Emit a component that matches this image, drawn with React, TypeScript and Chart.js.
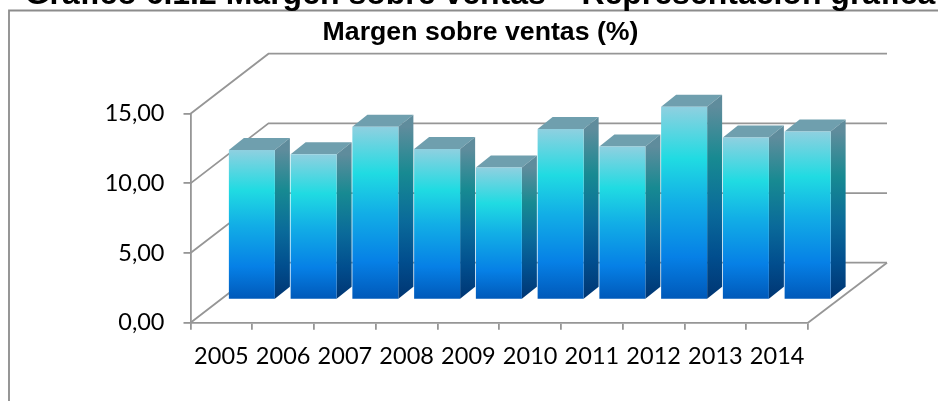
import React, { useEffect, useRef } from "react";
import { Chart, registerables } from "chart.js";

Chart.register(...registerables);

const years = ["2005", "2006", "2007", "2008", "2009", "2010", "2011", "2012", "2013", "2014"];
const margen = [10.75, 10.44, 12.42, 10.82, 9.48, 12.25, 10.99, 13.85, 11.65, 12.08];
const yTicks = [0, 5, 10, 15];

const heading = "Gráfico 6.1.2 Margen sobre ventas – Representación gráfica";
const chartTitle = "Margen sobre ventas (%)";

const LINE = "#969696";
const WALL_DX = 78;
const WALL_DY = -60;
const BAR_DX = 30.5;
const BAR_DY = -23;
const SIDE_DX = 15;
const SIDE_DY = -12;

function verticalGradient(ctx: CanvasRenderingContext2D, top: number, bottom: number, stops: [number, string][]) {
  const g = ctx.createLinearGradient(0, top, 0, bottom);
  stops.forEach(([o, c]) => g.addColorStop(o, c));
  return g;
}

const frontStops: [number, string][] = [
  [0, "#8fd0e0"],
  [0.27, "#20dbe2"],
  [0.5, "#12aee6"],
  [0.78, "#0680e6"],
  [1, "#0058b8"],
];
const sideStops: [number, string][] = [
  [0, "#5f8c9c"],
  [0.27, "#178a92"],
  [0.55, "#0a6a9a"],
  [0.78, "#014e8e"],
  [1, "#003572"],
];

const wallPlugin = {
  id: "wall",
  beforeDatasetsDraw(chart: any) {
    const { ctx, scales } = chart;
    const { left, right, bottom } = chart.chartArea;
    ctx.save();
    ctx.strokeStyle = LINE;
    ctx.lineWidth = 1.8;
    yTicks.forEach((v) => {
      const y = scales.y.getPixelForValue(v);
      ctx.beginPath();
      ctx.moveTo(left, y);
      ctx.lineTo(left + WALL_DX, y + WALL_DY);
      ctx.lineTo(right + WALL_DX + 1, y + WALL_DY);
      ctx.stroke();
    });
    ctx.beginPath();
    ctx.moveTo(right, bottom);
    ctx.lineTo(right + WALL_DX + 1, bottom + WALL_DY);
    ctx.stroke();
    ctx.restore();
  },
};

const barsPlugin = {
  id: "bars3d",
  beforeDatasetDraw(chart: any) {
    const { ctx } = chart;
    const bars = chart.getDatasetMeta(0).data;
    ctx.save();
    ctx.translate(BAR_DX, BAR_DY);
    bars.forEach((bar: any) => {
      const half = bar.width / 2;
      const l = bar.x - half;
      const r = bar.x + half;
      const t = bar.y;
      const b = bar.base;
      ctx.fillStyle = "#6f9fae";
      ctx.beginPath();
      ctx.moveTo(l, t);
      ctx.lineTo(l + SIDE_DX, t + SIDE_DY);
      ctx.lineTo(r + SIDE_DX, t + SIDE_DY);
      ctx.lineTo(r, t);
      ctx.closePath();
      ctx.fill();
      ctx.fillStyle = verticalGradient(ctx, t, b, sideStops);
      ctx.beginPath();
      ctx.moveTo(r, t);
      ctx.lineTo(r + SIDE_DX, t + SIDE_DY);
      ctx.lineTo(r + SIDE_DX, b + SIDE_DY);
      ctx.lineTo(r, b);
      ctx.closePath();
      ctx.fill();
    });
  },
  afterDatasetDraw(chart: any) {
    chart.ctx.restore();
  },
};

const textPlugin = {
  id: "texts",
  afterDraw(chart: any) {
    const { ctx } = chart;
    ctx.save();
    ctx.fillStyle = "#000";
    ctx.textAlign = "center";
    ctx.textBaseline = "alphabetic";
    ctx.font = 'bold 32px "Liberation Sans"';
    ctx.fillText(heading, 480, 4);
    ctx.font = 'bold 26.7px "Liberation Sans"';
    ctx.fillText(chartTitle, 480.5, 40);
    ctx.restore();
  },
};

const framePlugin = {
  id: "frame",
  beforeDraw(chart: any) {
    const { ctx, width, height } = chart;
    ctx.save();
    ctx.strokeStyle = "#8c8c8c";
    ctx.lineWidth = 1.8;
    ctx.beginPath();
    ctx.moveTo(9, height);
    ctx.lineTo(9, 10.5);
    ctx.lineTo(width, 10.5);
    ctx.stroke();
    ctx.restore();
  },
};

export default function App() {
  const ref = useRef<HTMLCanvasElement>(null);
  useEffect(() => {
    document.body.style.margin = "0";
    const chart = new Chart(ref.current!, {
      type: "bar",
      data: {
        labels: years,
        datasets: [
          {
            label: chartTitle,
            data: margen,
            clip: false,
            barPercentage: 0.745,
            categoryPercentage: 1,
            borderWidth: 0,
            backgroundColor: (c: any) => {
              const y = c.chart.scales.y;
              const v = margen[c.dataIndex];
              if (!y || v == null) return "#12aee6";
              const top = y.getPixelForValue(v);
              const bottom = y.getPixelForValue(0);
              if (!Number.isFinite(top) || !Number.isFinite(bottom)) return "#12aee6";
              return verticalGradient(c.chart.ctx, top, bottom, frontStops);
            },
          } as any,
        ],
      },
      plugins: [framePlugin, wallPlugin, barsPlugin, textPlugin],
      options: {
        responsive: false,
        animation: false,
        layout: { padding: { left: 0, right: 130, top: 113.7, bottom: 0 } },
        plugins: { legend: { display: false }, title: { display: false }, tooltip: { enabled: false } },
        scales: {
          x: {
            grid: { offset: true, drawOnChartArea: false, color: LINE, tickLength: 7, lineWidth: 1.8 },
            border: { color: LINE, width: 1.8 },
            ticks: { color: "#000", font: { family: "Lato", size: 23.5 }, padding: 13, maxRotation: 0, autoSkip: false },
            afterFit: (s: any) => {
              s.height = 78.3;
            },
          },
          y: {
            min: 0,
            max: 15,
            afterBuildTicks: (s: any) => {
              s.ticks = yTicks.map((value) => ({ value }));
            },
            afterFit: (s: any) => {
              s.width = 190.5;
            },
            grid: { drawOnChartArea: false, color: LINE, tickLength: 7, lineWidth: 1.8 },
            border: { color: LINE, width: 1.8 },
            ticks: {
              color: "#000",
              font: { family: "Lato", size: 23.5 },
              padding: 19,
              callback: (v: any) => Number(v).toFixed(2).replace(".", ","),
            },
          },
        },
      },
    });
    return () => chart.destroy();
  }, []);
  return <canvas ref={ref} width={938} height={401} style={{ display: "block", width: 938, height: 401 }} />;
}
